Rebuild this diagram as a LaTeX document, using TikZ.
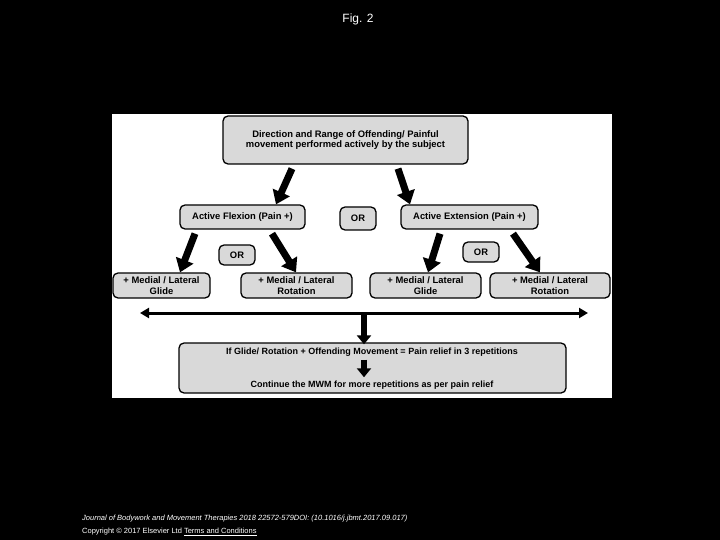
\documentclass[tikz,border=0pt]{standalone}
\usepackage{fontspec}
\setmainfont{Liberation Sans}
\usetikzlibrary{arrows.meta}
\begin{document}
\begin{tikzpicture}
[x=1pt,y=-1pt,
  boxDecorate/.style={draw=black,line width=1.3pt,rounded corners=5pt,fill=black!15,
    font=\fontsize{9.4}{10.5}\selectfont\bfseries,align=center,inner sep=0pt},
  fatArrow/.style={line width=7pt,-{Triangle[width=18pt,length=13pt]}},
  thinArrow/.style={line width=3pt,{Triangle[width=10pt,length=9pt]}-{Triangle[width=10pt,length=9pt]}}]
\useasboundingbox (0,0) rectangle (720,540);
\fill[black] (0,0) rectangle (720,540);
\fill[white] (112,114) rectangle (612,398);
\node[white,font=\fontsize{12}{13}\selectfont] (fig) at (358,19) {Fig. 2};
%% boxes
\foreach \nodename/\xa/\ya/\xb/\yb/\txt in {
  top/223/116/468/164/{Direction and Range of Offending/ Painful\\movement performed actively by the subject},
  flex/180/205/305/229/{Active Flexion (Pain +)},
  or1/340/207/376/230/{OR},
  ext/401/205/538/229/{Active Extension (Pain +)},
  or2/219/245/255/265/{OR},
  or3/463/242/499/262/{OR},
  glideA/113/273/210/298/{+ Medial / Lateral\\Glide},
  rotA/241/273/352/298/{+ Medial / Lateral\\Rotation},
  glideB/370/273/481/298/{+ Medial / Lateral\\Glide},
  rotB/490/273/610/298/{+ Medial / Lateral\\Rotation}}
{
  \node[boxDecorate,minimum width=\xb-\xa,minimum height=\yb-\ya] (\nodename)
    at ({(\xa+\xb)/2},{(\ya+\yb)/2}) {\txt};
}
\node[boxDecorate,minimum width=387,minimum height=50] (result) at (372.5,368) {};
\node[font=\fontsize{9}{10}\selectfont\bfseries] (relief) at (372,352) {If Glide/ Rotation + Offending Movement = Pain relief in 3 repetitions};
\node[font=\fontsize{9}{10}\selectfont\bfseries] (cont) at (372,385) {Continue the MWM for more repetitions as per pain relief};
%% arrows
\coordinate (left) at (140,313);
\coordinate (right) at (588,313);
\coordinate (mid) at (364,313);
\draw[thinArrow] (left) -- (right);
\draw[line width=6pt,-{Triangle[width=14pt,length=9pt]}] (mid) -- ([yshift=-2pt]result.north -| mid);
\draw[line width=6pt,-{Triangle[width=14pt,length=9pt]}] (relief.south -| mid) -- (cont.north -| mid);
\foreach \startnode/\sx/\ex/\endnode in {
  top/292/276/flex, top/398/410/ext,
  flex/195/180/glideA, flex/272/296/rotA,
  ext/440/428/glideB, ext/513/540/rotB}
{
  \draw[fatArrow] (\startnode.south -| {\sx,0}) ++(0,4) -- (\endnode.north -| {\ex,0});
}
\node[white,anchor=west,font=\fontsize{7.5}{8.5}\selectfont\itshape,inner sep=0pt] (journal) at (82,519)
  {Journal of Bodywork and Movement Therapies 2018 22572-579DOI: (10.1016/j.jbmt.2017.09.017)};
\node[white,anchor=west,font=\fontsize{7.5}{8.5}\selectfont,inner sep=0pt] (copy) at (82,532)
  {Copyright © 2017 Elsevier Ltd \underline{Terms and Conditions}};
\end{tikzpicture}
\end{document}
